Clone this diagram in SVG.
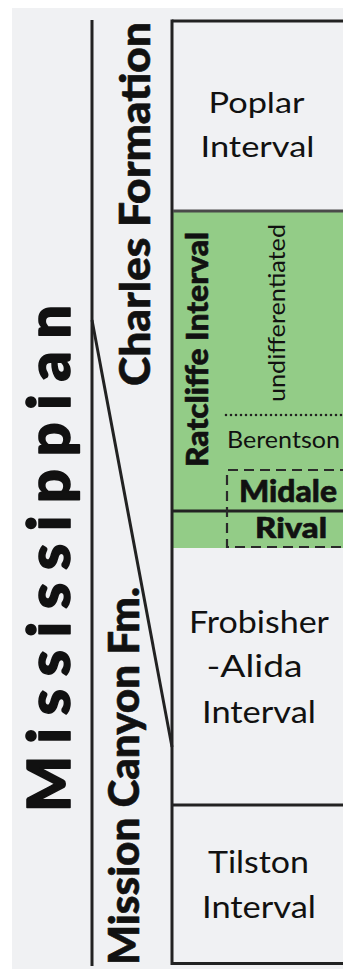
<svg xmlns="http://www.w3.org/2000/svg" width="343" height="971" viewBox="0 0 343 971">
  <style>
    .t { font-family: Lato, "Open Sans", "Liberation Sans", sans-serif; fill: #111; }
    .b { font-weight: 900; }
    .heavy { stroke: #111; stroke-width: 1.6; stroke-linejoin: round; }
    .semi { stroke: #111; stroke-width: 0.6; stroke-linejoin: round; }
    .ln { stroke: #222; stroke-width: 3; fill: none; }
  </style>
  <rect x="0" y="0" width="343" height="971" fill="#ffffff"/>
  <rect id="panel" x="12" y="8" width="331" height="961" fill="#f0f1f3"/>

  <g id="ratcliffe-fill">
    <rect x="172" y="211" width="171" height="337" fill="#93cc87"/>
  </g>

  <g id="connectors">
    <line class="ln" x1="92" y1="20" x2="92" y2="966"/>
    <line class="ln" x1="92" y1="320" x2="172" y2="747"/>
    <line class="ln" x1="172" y1="21" x2="343" y2="21"/>
    <line class="ln" x1="172" y1="19.5" x2="172" y2="965"/>
    <line class="ln" x1="172" y1="963.5" x2="343" y2="963.5"/>
    <line x1="173" y1="211" x2="343" y2="211" stroke="#4a4a4a" stroke-width="3"/>
    <line class="ln" x1="173" y1="511" x2="343" y2="511"/>
    <line class="ln" x1="173" y1="805" x2="343" y2="805"/>
    <line x1="226" y1="415" x2="343" y2="415" stroke="#222" stroke-width="2.6" stroke-linecap="round" stroke-dasharray="0 5"/>
    <path d="M 350 470 H 227 V 547 H 350" fill="none" stroke="#2a2a2a" stroke-width="2.2" stroke-dasharray="10 6"/>
  </g>

  <g id="mississippian">
    <text class="t b heavy" transform="translate(70,812) rotate(-90)" font-size="59" textLength="507" lengthAdjust="spacing">Mississippian</text>
  </g>
  <g id="charles-formation">
    <text class="t b semi" transform="translate(150,386) rotate(-90)" font-size="42" textLength="364" lengthAdjust="spacingAndGlyphs">Charles Formation</text>
  </g>
  <g id="mission-canyon">
    <text class="t b semi" transform="translate(139,965) rotate(-90)" font-size="42" textLength="378" lengthAdjust="spacingAndGlyphs">Mission Canyon Fm.</text>
  </g>
  <g id="ratcliffe-interval">
    <text class="t b semi" transform="translate(207.5,467) rotate(-90)" font-size="30" textLength="235" lengthAdjust="spacingAndGlyphs">Ratcliffe Interval</text>
  </g>
  <g id="undifferentiated">
    <text class="t" transform="translate(285,402) rotate(-90)" font-size="23" textLength="178" lengthAdjust="spacingAndGlyphs">undifferentiated</text>
  </g>

  <g id="poplar">
    <text class="t" x="256.5" y="112.5" font-size="28" text-anchor="middle" textLength="96" lengthAdjust="spacingAndGlyphs">Poplar</text>
    <text class="t" x="257.5" y="157" font-size="28" text-anchor="middle" textLength="114" lengthAdjust="spacingAndGlyphs">Interval</text>
  </g>
  <g id="berentson">
    <text class="t" x="227" y="448.3" font-size="23.5" textLength="113" lengthAdjust="spacingAndGlyphs">Berentson</text>
  </g>
  <g id="midale">
    <text class="t b semi" x="239" y="501.7" font-size="30" textLength="98" lengthAdjust="spacingAndGlyphs">Midale</text>
  </g>
  <g id="rival">
    <text class="t b semi" x="255" y="538.3" font-size="28" textLength="72" lengthAdjust="spacingAndGlyphs">Rival</text>
  </g>
  <g id="frobisher-alida">
    <text class="t" x="259" y="633.3" font-size="30" text-anchor="middle" textLength="140" lengthAdjust="spacingAndGlyphs">Frobisher</text>
    <text class="t" x="254.5" y="676.7" font-size="30" text-anchor="middle" textLength="96" lengthAdjust="spacingAndGlyphs">-Alida</text>
    <text class="t" x="259" y="722.7" font-size="30" text-anchor="middle" textLength="114" lengthAdjust="spacingAndGlyphs">Interval</text>
  </g>
  <g id="tilston">
    <text class="t" x="258.5" y="873.3" font-size="30" text-anchor="middle" textLength="101" lengthAdjust="spacingAndGlyphs">Tilston</text>
    <text class="t" x="259" y="918.3" font-size="30" text-anchor="middle" textLength="114" lengthAdjust="spacingAndGlyphs">Interval</text>
  </g>
</svg>
